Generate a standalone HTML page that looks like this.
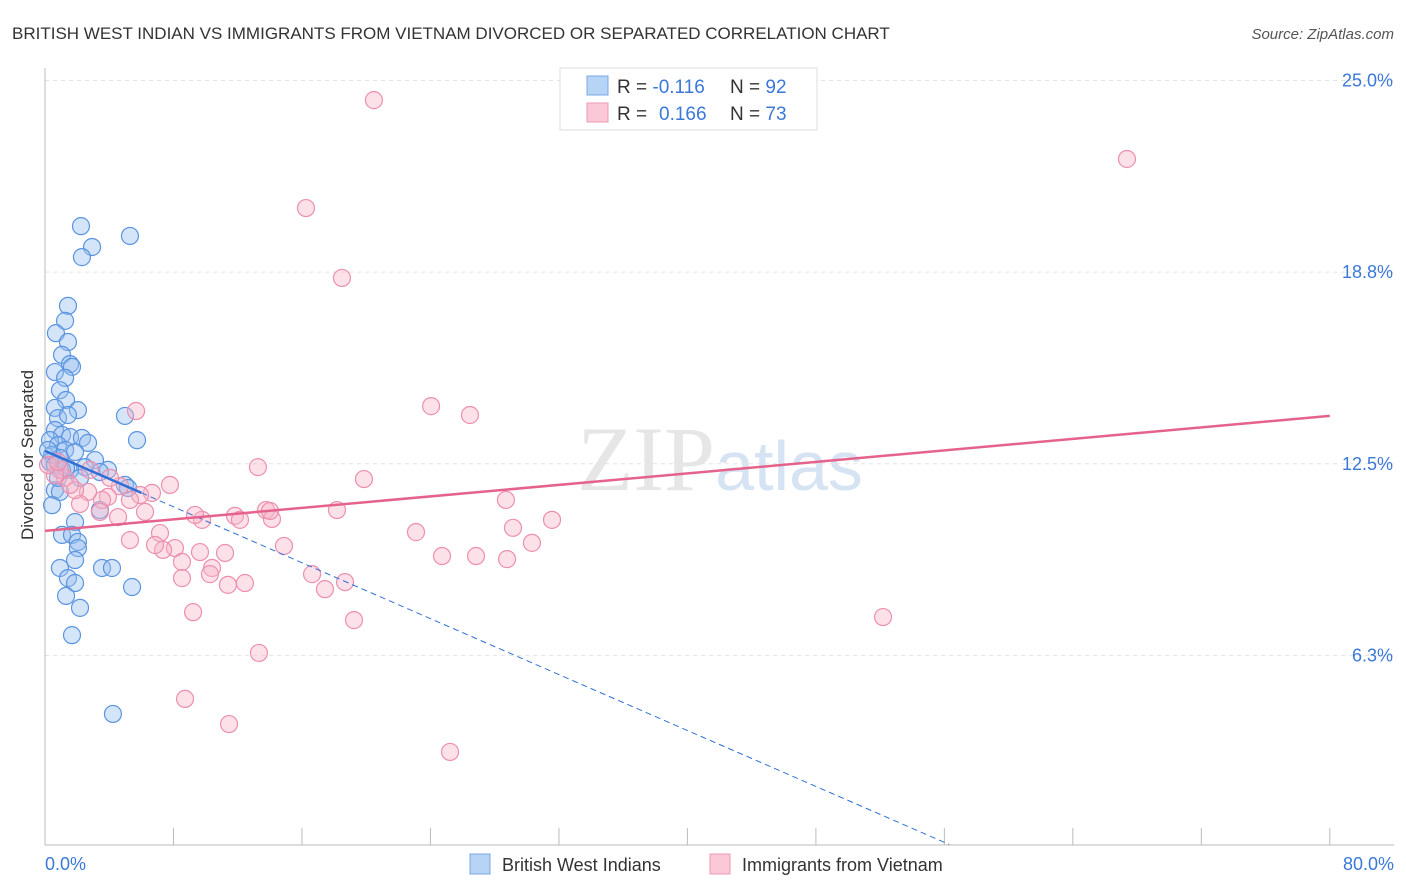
<!DOCTYPE html>
<html><head><meta charset="utf-8"><style>
body{margin:0;background:#fff;font-family:"Liberation Sans",sans-serif;}
svg{display:block}
</style></head><body>
<svg id="chart" width="1406" height="892" xmlns="http://www.w3.org/2000/svg">
<text x="12" y="39" font-size="17" fill="#333">BRITISH WEST INDIAN VS IMMIGRANTS FROM VIETNAM DIVORCED OR SEPARATED CORRELATION CHART</text>
<text x="1394" y="39" font-size="15" fill="#555" text-anchor="end" font-style="italic">Source: ZipAtlas.com</text>
<text x="720" y="490" font-size="92" fill="#e6e6e6" text-anchor="middle" font-family="Liberation Serif,serif">ZIP<tspan fill="#d6e3f3" font-family="Liberation Sans,sans-serif" font-size="70">atlas</tspan></text>
<g id="grid"></g><g id="axes"></g><g id="pts"></g><g id="trend"></g>
<text transform="translate(33,455) rotate(-90)" font-size="17" fill="#333" text-anchor="middle">Divorced or Separated</text>
<g>
<rect x="560" y="68" width="257" height="62" fill="#fff" stroke="#ddd"/>
<rect x="587" y="76" width="21" height="19" fill="#b7d3f5" stroke="#7aa9e6"/>
<rect x="587" y="103" width="21" height="19" fill="#fac8d6" stroke="#ee9ab5"/>
<text x="617" y="93" font-size="19" fill="#333">R = <tspan fill="#3b78d8">-0.116</tspan><tspan x="730">N = </tspan><tspan fill="#3b78d8">92</tspan></text>
<text x="617" y="120" font-size="19" fill="#333">R = <tspan fill="#3b78d8" x="659">0.166</tspan><tspan x="730">N = </tspan><tspan fill="#3b78d8">73</tspan></text>
</g>
<g>
<rect x="470" y="854" width="20" height="20" fill="#b7d3f5" stroke="#7aa9e6"/>
<text x="502" y="871" font-size="18" fill="#333">British West Indians</text>
<rect x="710" y="854" width="20" height="20" fill="#fac8d6" stroke="#ee9ab5"/>
<text x="742" y="871" font-size="18" fill="#333">Immigrants from Vietnam</text>
</g>
</svg>
<script>
const yTicks=[25.0,18.8,12.5,6.3];
const yTickVals=[25,18.75,12.5,6.25];
const xLabels=["0.0%","80.0%"];
const blueX=[2.24,2.93,2.3,5.29,1.43,1.25,0.68,1.43,1.06,1.56,1.68,0.62,1.25,0.93,1.31,2.05,0.62,0.81,1.43,4.98,5.73,0.62,1.06,1.56,2.3,2.68,0.31,0.81,1.25,1.87,0.44,0.93,3.11,2.49,3.92,3.42,1.56,2.18,4.98,5.17,0.62,0.93,0.44,3.42,1.87,1.06,1.68,2.05,2.05,1.87,0.93,1.43,1.87,3.55,4.17,1.31,2.18,5.42,1.68,4.23,0.31,0.19,0.62,1.06,0.81,1.31];
const blueY=[20.25,19.57,19.24,19.93,17.65,17.16,16.76,16.47,16.05,15.75,15.66,15.49,15.3,14.9,14.58,14.25,14.32,13.99,14.09,14.06,13.27,13.6,13.44,13.37,13.34,13.18,13.27,13.11,12.95,12.88,12.79,12.69,12.62,12.39,12.3,12.23,12.3,12.04,11.81,11.71,11.64,11.58,11.15,10.99,10.6,10.18,10.18,9.95,9.75,9.36,9.1,8.77,8.61,9.1,9.1,8.19,7.8,8.48,6.91,4.34,12.56,12.95,12.46,12.3,12.04,12.36];
const pinkX=[20.48,67.37,16.25,18.49,24.04,26.46,5.67,13.26,19.86,7.78,6.66,5.92,4.67,3.92,3.55,2.68,2.18,1.25,0.93,0.62,1.87,3.42,4.55,5.29,6.23,7.16,8.09,7.35,8.53,9.65,8.53,10.4,11.21,10.27,11.39,12.45,9.78,11.83,13.76,14.13,14.01,18.18,14.88,16.63,17.43,18.68,19.24,9.22,13.32,8.72,11.46,25.22,23.1,24.72,26.84,28.7,29.14,30.32,31.57,28.77,52.18,6.85,4.05,2.8,1.56,0.19,0.81,5.29,9.34,12.14];
const pinkY=[24.36,22.44,20.84,18.56,14.38,14.09,14.22,12.39,12.0,11.81,11.55,11.48,11.77,11.42,11.32,11.58,11.19,12.04,12.3,12.13,11.64,10.93,10.76,11.32,10.93,10.24,9.75,9.69,9.3,9.62,8.77,9.1,9.59,8.9,8.55,8.61,10.67,10.8,10.99,10.7,10.96,10.99,9.82,8.9,8.41,8.64,7.4,7.66,6.33,4.83,4.01,3.1,10.27,9.49,9.49,11.32,10.41,9.92,10.67,9.39,7.5,9.85,12.04,12.3,11.81,12.46,12.56,10.01,10.83,10.67];
const blueTrend=[12.92,-0.228];
const pinkTrend=[10.31,0.0469];
const X=v=>45+v*16.06, Y=v=>847-v*30.66;
const NS="http://www.w3.org/2000/svg";
function mk(tag,attrs,parent){const e=document.createElementNS(NS,tag);for(const k in attrs)e.setAttribute(k,attrs[k]);document.getElementById(parent).appendChild(e);return e;}
yTickVals.forEach((v,i)=>{
 const l=mk('line',{x1:45,x2:1394,y1:Y(v),y2:Y(v),stroke:'#e3e3e3','stroke-dasharray':'4,4'},'grid');
 
 
 const t=mk('text',{x:1393,y:Y(v)+6,'font-size':18,fill:'#3b78d8','text-anchor':'end'},'grid');
 t.textContent=yTicks[i].toFixed(1)+'%';
 
 
});
const ax=mk('line',{x1:45,x2:1394,y1:845,y2:845,stroke:'#bbb'},'axes');


const ay=mk('line',{x1:45,x2:45,y1:68,y2:845,stroke:'#bbb'},'axes');


for(let i=0;i<=10;i++){const tk=mk('line',{x1:X(i*8),x2:X(i*8),y1:828,y2:845,stroke:'#bbb'},'axes');
 
 }
[[0,'start',45],[80,'end',1394]].forEach((a,i)=>{const t=mk('text',{x:a[2],y:870,'font-size':18,fill:'#3b78d8','text-anchor':a[1]},'axes');t.textContent=xLabels[i];
 
 });
blueX.forEach((v,i)=>{const c=mk('circle',{cx:X(v),cy:Y(blueY[i]),r:8.5,fill:'rgba(150,190,240,0.4)',stroke:'#5a94e0','stroke-width':1.2},'pts');
 
 });
pinkX.forEach((v,i)=>{const c=mk('circle',{cx:X(v),cy:Y(pinkY[i]),r:8.5,fill:'rgba(248,180,200,0.4)',stroke:'#ec8fae','stroke-width':1.2},'pts');
 
 });
const bt=v=>blueTrend[0]+blueTrend[1]*v, pt=v=>pinkTrend[0]+pinkTrend[1]*v;
const b1=mk('line',{x1:X(0),y1:Y(bt(0)),x2:X(6),y2:Y(bt(6)),stroke:'#2f6fd6','stroke-width':2.5},'trend');


const b2=mk('line',{x1:X(6),y1:Y(bt(6)),x2:X(56.3),y2:Y(bt(56.3)),stroke:'#2f6fd6','stroke-width':1,'stroke-dasharray':'6,4'},'trend');


const p1=mk('line',{x1:X(0),y1:Y(pt(0)),x2:X(80),y2:Y(pt(80)),stroke:'#e5628c','stroke-width':2.5},'trend');


</script>
</body></html>
